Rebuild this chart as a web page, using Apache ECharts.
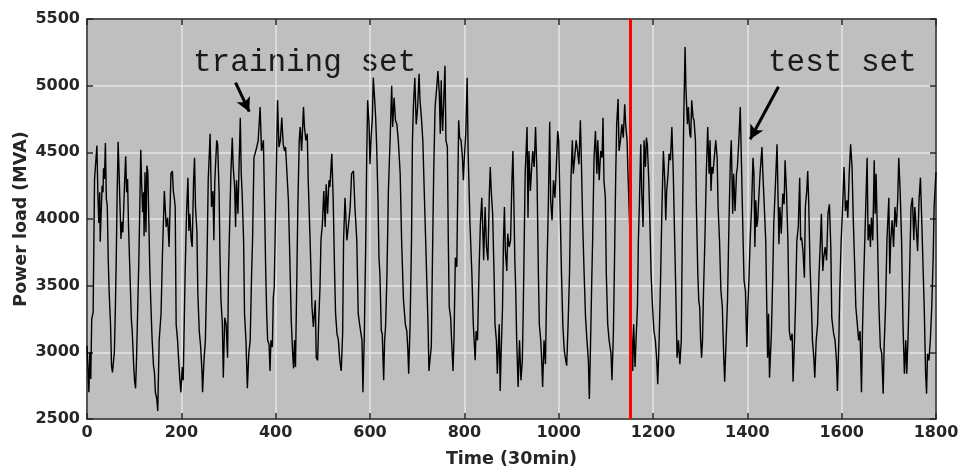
<!DOCTYPE html>
<html>
<head>
<meta charset="utf-8">
<title>Power load</title>
<script src="https://cdn.jsdelivr.net/npm/echarts@6/dist/echarts.min.js"></script>
<style>
  html, body { margin: 0; padding: 0; background: #ffffff; }
  #chart { width: 959px; height: 473px; }
</style>
</head>
<body>
<div id="chart"></div>
<script>
// Half-hourly power load readings: [time index (30 min steps), load in MVA]
const loadReadings = [
  [0,3050],[2,2880],[4,2700],[6,3000],[8,2800],[10,3250],[13,3300],[16,4300],[19,4450],[21,4550],[23,4200],[25,3970],[27,4200],[28,3830],[30,3820],[32,4250],[34,4200],[35,4380],[37,4300],[39,4570],[41,4150],[43,4100],[45,3700],[47,3450],[50,3200],[52,2900],[54,2850],[56,2840],[58,3000],[60,3300],[62,3700],[64,4200],[66,4580],[68,4350],[70,4100],[72,3850],[74,3980],[76,3900],[78,4100],[80,4300],[82,4470],[84,4200],[86,4300],[88,3950],[91,3600],[94,3250],[96,3150],[99,2900],
  [101,2780],[103,2730],[105,2950],[107,3250],[110,3700],[112,4100],[114,4520],[116,4250],[118,4050],[120,4200],[121,3870],[123,4350],[125,3900],[127,4400],[129,4350],[131,4000],[133,3650],[135,3400],[138,3100],[141,2900],[143,2850],[145,2700],[148,2650],[150,2560],[153,3090],[157,3290],[160,3740],[164,4210],[168,3940],[171,4010],[174,3790],[178,4340],[181,4360],[183,4210],[185,4160],[187,4090],[189,3210],[192,3090],[194,2960],[197,2790],[199,2700],
  [202,2890],[204,2790],[208,3590],[211,4040],[214,4310],[216,3910],[218,4040],[221,3840],[223,3790],[226,4290],[228,4460],[230,4090],[233,3910],[235,3440],[238,3160],[241,3040],[244,2840],[245,2700],[248,2940],[251,3090],[254,3590],[257,4290],[261,4640],[264,4090],[267,4210],[269,3840],[271,4290],[275,4590],[277,4560],[280,4210],[282,3710],[284,3390],[287,3210],[289,2810],[292,3260],[295,3210],[298,2960],
  [300,3590],[305,4340],[308,4610],[310,4390],[313,4240],[315,3940],[317,4290],[320,4040],[322,4340],[325,4760],[327,4340],[329,4190],[332,3840],[334,3290],[337,3090],[340,2730],[343,2990],[346,3090],[349,3590],[351,3840],[354,4460],[357,4500],[360,4540],[363,4590],[367,4840],[370,4510],[374,4590],[376,4190],[379,3590],[381,3290],[383,3090],[386,3060],[388,2860],[390,3090],[393,3040],[395,3410],[397,3490],
  [400,4090],[402,4490],[404,4890],[407,4540],[410,4590],[413,4760],[416,4560],[419,4510],[421,4540],[424,4340],[427,4140],[430,3710],[433,3240],[436,2990],[438,2880],[440,3090],[442,2890],[445,3590],[447,4090],[450,4590],[452,4690],[455,4510],[459,4840],[461,4690],[464,4590],[467,4640],[469,4290],[473,3840],[477,3340],[480,3190],[484,3390],[486,2960],[489,2940],[491,3210],[494,3490],[496,3840],[499,3960],
  [502,4210],[505,3940],[507,4260],[510,4040],[513,4290],[515,4240],[519,4490],[522,4140],[525,3590],[527,3290],[530,3140],[533,3090],[536,2940],[539,2860],[542,3140],[544,3840],[547,4160],[551,3840],[554,3940],[558,4090],[561,4340],[565,4360],[568,4090],[572,3840],[575,3290],[578,3210],[580,3160],[583,3090],[585,2700],[588,3140],[591,3840],[593,4460],[595,4890],[598,4710],
  [600,4410],[602,4590],[605,4760],[607,5060],[610,4890],[612,4760],[614,4560],[617,4140],[619,3710],[621,3590],[624,3160],[626,3140],[629,2790],[631,3090],[633,3190],[636,3590],[639,4210],[643,4640],[646,5000],[648,4690],[651,4910],[654,4740],[657,4710],[660,4590],[664,4340],[667,3840],[671,3390],[675,3210],[678,3160],[680,3040],[682,2840],[685,3210],[688,3840],[690,4590],[692,4840],[695,5060],[698,4710],
  [701,4840],[704,5090],[706,4890],[709,4760],[712,4590],[715,4210],[718,3840],[720,3590],[723,3210],[725,2860],[727,2940],[730,3040],[732,3590],[735,4340],[738,4840],[742,5010],[744,5110],[747,4940],[749,4640],[751,5040],[752,4840],[754,4660],[757,4960],[759,5150],[761,4590],[764,4540],[766,3840],[768,3340],[771,3260],[773,3090],[776,2860],[778,3090],[781,3710],[784,3640],[788,4740],[790,4610],[793,4590],[796,4460],[798,4290],
  [800,4460],[803,4640],[806,5060],[808,4510],[810,4240],[812,3960],[816,3590],[819,3210],[823,2940],[825,3160],[828,3090],[831,3590],[834,3960],[837,4160],[839,3940],[841,3690],[844,4090],[847,3790],[850,3690],[853,4190],[855,4390],[857,4210],[860,4040],[863,3590],[865,3210],[868,3090],[870,2840],[874,3210],[876,2710],[878,2990],[881,3340],[883,3840],[885,4090],[887,3760],[890,3610],[892,3890],[895,3790],[898,3840],
  [901,4300],[903,4510],[905,4140],[907,3700],[909,3460],[911,3090],[914,2740],[917,3090],[920,2790],[923,2940],[925,3340],[929,4340],[933,4690],[935,4010],[937,4510],[940,4210],[942,4340],[945,4510],[948,4390],[951,4690],[954,4340],[957,3590],[959,3210],[962,3090],[964,2940],[966,2740],[969,3090],[972,2910],[975,3590],[978,4090],[981,4730],[983,4140],[986,3990],[989,4290],[992,4160],[995,4390],[998,4660],
  [1000,4590],[1003,4090],[1006,3590],[1009,3190],[1012,3010],[1015,2940],[1017,2900],[1020,3210],[1023,3590],[1026,4290],[1029,4590],[1031,4340],[1034,4460],[1037,4590],[1040,4510],[1043,4410],[1046,4740],[1048,4460],[1051,3960],[1054,3590],[1057,3260],[1060,3090],[1063,2940],[1065,2650],[1067,2960],[1070,3510],[1072,3840],[1075,4460],[1078,4660],[1081,4340],[1083,4590],[1086,4290],[1089,4510],[1092,4460],[1094,4760],[1096,4290],[1099,4160],
  [1101,3590],[1104,3210],[1107,3090],[1109,3040],[1111,2990],[1113,2790],[1116,3140],[1118,3590],[1121,4340],[1123,4710],[1126,4900],[1128,4510],[1131,4590],[1134,4710],[1137,4610],[1140,4860],[1142,4710],[1145,4590],[1147,4340],[1149,4340],[1151,3900],[1153,3300],[1155,3090],[1157,2860],[1159,3210],[1162,2890],[1164,3090],[1167,3340],[1169,3840],[1171,4090],[1174,4560],[1176,4210],[1179,3940],[1181,4590],[1184,4390],[1186,4610],[1188,4560],[1191,4290],[1193,4040],[1196,3590],[1199,3340],
  [1202,3160],[1205,3090],[1208,2940],[1210,2760],[1213,3090],[1216,3540],[1219,4090],[1222,4510],[1225,4290],[1227,3990],[1229,4210],[1232,4340],[1234,4490],[1237,4440],[1240,4690],[1243,4340],[1246,3840],[1249,3340],[1251,2960],[1254,3090],[1257,2910],[1260,3090],[1262,3840],[1265,4710],[1268,5290],[1270,4960],[1273,4710],[1275,4840],[1278,4640],[1280,4610],[1282,4890],[1285,4760],[1287,4740],[1290,4590],[1292,4090],[1295,3590],[1297,3390],[1299,3340],
  [1301,3090],[1303,2960],[1305,3090],[1307,3440],[1310,3840],[1313,4340],[1316,4690],[1319,4340],[1321,4590],[1323,4210],[1325,4390],[1327,4340],[1330,4460],[1333,4590],[1336,4460],[1338,4090],[1341,3840],[1344,3460],[1347,3340],[1350,2960],[1352,2780],[1355,3090],[1358,3390],[1361,3960],[1364,4440],[1366,4590],[1369,4040],[1371,4340],[1374,4060],[1377,4340],[1379,4390],[1382,4590],[1385,4840],[1388,4340],[1391,3840],[1393,3540],[1396,3460],[1398,3160],[1399,3040],
  [1401,3340],[1403,3510],[1406,3840],[1409,4090],[1412,4460],[1414,4340],[1416,3790],[1418,4140],[1420,3940],[1422,3990],[1425,4210],[1427,4340],[1431,4540],[1433,4340],[1436,4090],[1439,3840],[1441,3390],[1443,2960],[1445,3290],[1447,2810],[1451,3140],[1454,3590],[1456,3960],[1459,4210],[1463,4560],[1465,4190],[1467,3810],[1469,4090],[1472,3890],[1475,4190],[1478,4110],[1480,4440],[1483,4210],[1486,3840],[1489,3160],[1492,3090],[1495,3140],[1497,2780],
  [1500,3090],[1502,3340],[1505,3840],[1508,3940],[1511,4310],[1513,3840],[1515,3860],[1518,3760],[1521,3560],[1523,4090],[1526,4210],[1528,4360],[1530,4140],[1533,3640],[1536,3340],[1538,3090],[1541,2960],[1543,2810],[1546,3090],[1549,3210],[1552,3590],[1555,3840],[1557,4040],[1560,3610],[1562,3710],[1565,3790],[1568,3690],[1571,4040],[1574,4110],[1577,3790],[1579,3260],[1583,3140],[1586,3090],[1589,2940],[1591,2710],[1594,3090],[1596,3460],[1599,3840],
  [1602,4090],[1605,4390],[1608,4060],[1611,4140],[1613,4010],[1616,4340],[1619,4560],[1622,4390],[1625,3950],[1628,3600],[1630,3340],[1632,3260],[1636,3090],[1639,3160],[1642,2700],[1644,3140],[1647,3590],[1650,3960],[1654,4460],[1656,3840],[1659,3960],[1661,3790],[1663,4010],[1666,3840],[1669,4440],[1671,4040],[1673,4340],[1676,3840],[1679,3340],[1682,3040],[1685,2990],[1688,2690],[1690,3040],[1693,3340],[1696,3840],
  [1700,4160],[1702,3590],[1704,3840],[1707,3990],[1710,3790],[1713,4090],[1716,3940],[1719,4160],[1721,4460],[1724,4210],[1727,3840],[1730,3210],[1733,2840],[1736,3090],[1738,2840],[1741,3140],[1744,3590],[1747,4090],[1750,4160],[1753,3840],[1755,4090],[1758,3940],[1761,3760],[1764,4140],[1767,4310],[1770,3960],[1772,3710],[1775,3340],[1778,2840],[1780,2690],[1782,2990],[1785,2940],[1788,3090],[1791,3340],[1794,3710],[1796,4090],[1799,4290],[1800,4350]
];

// Axis ranges and tick spacing
const timeRange = [0, 1800];
const timeStep = 200;
const loadRange = [2500, 5500];
const loadStep = 500;

// Boundary between the training and test portions (time index)
const splitIndex = 1152;

// Annotation labels
const trainingLabel = 'training set';
const testLabel = 'test set';

const axisColor = '#262626';
const plainNumber = v => String(v);
const labelFont = { color: axisColor, fontFamily: '"DejaVu Sans", sans-serif', fontWeight: 'bold', fontSize: 16 };
const nameFont = { color: axisColor, fontFamily: '"DejaVu Sans", sans-serif', fontWeight: 'bold', fontSize: 17.5 };
const gridLine = { show: true, lineStyle: { color: '#e4e4e4', width: 1.5 } };

function frameAxis(extra) {
  return Object.assign({
    type: 'value',
    axisLine: { show: true, onZero: false, lineStyle: { color: axisColor, width: 1.5 } },
    axisTick: { show: true, inside: true, length: 6, lineStyle: { color: axisColor, width: 1.5 } },
    splitLine: { show: false },
    axisLabel: { show: false }
  }, extra);
}

const chart = echarts.init(document.getElementById('chart'), null, { renderer: 'canvas' });

chart.setOption({
  animation: false,
  backgroundColor: '#ffffff',
  grid: {
    left: 87, right: 23, top: 19, bottom: 54,
    containLabel: false,
    outerBoundsMode: 'none',
    show: true, backgroundColor: '#bfbfbf', borderWidth: 0
  },
  xAxis: [
    frameAxis({
      position: 'bottom',
      min: timeRange[0], max: timeRange[1], interval: timeStep,
      splitLine: gridLine,
      axisLabel: Object.assign({ show: true, margin: 6, formatter: plainNumber }, labelFont),
      name: 'Time (30min)', nameLocation: 'middle', nameGap: 31,
      nameMoveOverlap: false,
      nameTextStyle: nameFont
    }),
    frameAxis({ position: 'top', min: timeRange[0], max: timeRange[1], interval: timeStep })
  ],
  yAxis: [
    frameAxis({
      position: 'left',
      min: loadRange[0], max: loadRange[1], interval: loadStep,
      splitLine: gridLine,
      axisLabel: Object.assign({ show: true, margin: 7, formatter: plainNumber }, labelFont),
      name: 'Power load (MVA)', nameLocation: 'middle', nameGap: 57,
      nameMoveOverlap: false,
      nameTextStyle: nameFont
    }),
    frameAxis({ position: 'right', min: loadRange[0], max: loadRange[1], interval: loadStep })
  ],
  series: [{
    type: 'line',
    data: loadReadings,
    xAxisIndex: 0,
    yAxisIndex: 0,
    showSymbol: false,
    lineStyle: { color: '#000000', width: 1.4 },
    emphasis: { disabled: true },
    markLine: {
      silent: true,
      animation: false,
      label: { show: false },
      data: [
        [
          { xAxis: splitIndex, yAxis: loadRange[0], symbol: 'none', lineStyle: { color: '#ff0000', width: 3, type: 'solid' } },
          { xAxis: splitIndex, yAxis: loadRange[1], symbol: 'none' }
        ],
        [
          { coord: [315, 5022], symbol: 'none', lineStyle: { color: '#000000', width: 3, type: 'solid' } },
          { coord: [344, 4805], symbol: 'arrow', symbolSize: [11, 14] }
        ],
        [
          { coord: [1466, 4992], symbol: 'none', lineStyle: { color: '#000000', width: 3, type: 'solid' } },
          { coord: [1406, 4598], symbol: 'arrow', symbolSize: [11, 14] }
        ]
      ]
    }
  }],
  graphic: [
    {
      type: 'text', left: 193, top: 47, silent: true,
      style: { text: trainingLabel, fill: '#1a1a1a', font: '31px "Liberation Mono", monospace' }
    },
    {
      type: 'text', left: 768, top: 47, silent: true,
      style: { text: testLabel, fill: '#1a1a1a', font: '31px "Liberation Mono", monospace' }
    }
  ]
});
</script>
</body>
</html>
